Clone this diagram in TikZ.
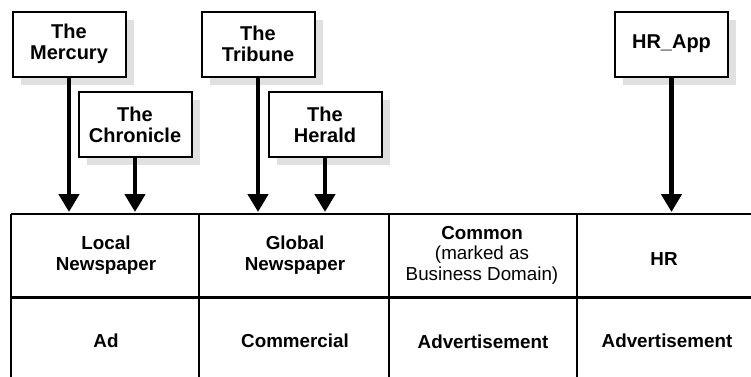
\documentclass[tikz,border=0pt]{standalone}
\usepackage{fontspec}
\setmainfont{Liberation Sans}
\usetikzlibrary{arrows.meta,shadows}
\begin{document}
\begin{tikzpicture}[x=1pt,y=-1pt,
  pub/.style={draw, line width=2pt, fill=white, minimum width=113pt, minimum height=65pt,
    align=center, inner sep=0pt, font=\bfseries\fontsize{20}{20.7}\selectfont,
    drop shadow={shadow xshift=8pt, shadow yshift=-8pt, fill=black!12, opacity=1, draw=none}},
  arr/.style={line width=4.5pt, -{Triangle[width=20pt,length=18pt]}},
  cell/.style={align=center, inner sep=0pt, font=\bfseries\fontsize{18.8}{20.5}\selectfont},
  grid/.style={line width=2.5pt}]
\useasboundingbox (0,0) rectangle (751,376);
\clip (0,0) rectangle (751,376);
% publication boxes
\node[pub] (merc) at (69,44) {The\\Mercury};
\node[pub] (chron) at (135,124.5) {The\\Chronicle};
\node[pub] (trib) at (258,44) {The\\Tribune};
\node[pub] (her) at (325,124.5) {The\\Herald};
\node[pub] (hrapp) at (671.5,44) {HR\_App};
% table
\coordinate (tt) at (0,212);
\draw[grid] (11,214) -- (753,214);
\draw[grid,line width=3pt] (11,297) -- (753,297);
\draw[grid] (11,214) -- (11,390);
\draw[grid] (199,214) -- (199,390);
\draw[grid] (389,214) -- (389,390);
\draw[grid] (577,214) -- (577,390);
\draw[grid] (753,214) -- (753,390);
% arrows
\draw[arr] (merc.south) -- (merc.south |- tt);
\draw[arr] (chron.south) -- (chron.south |- tt);
\draw[arr] (trib.south) -- (trib.south |- tt);
\draw[arr] (her.south) -- (her.south |- tt);
\draw[arr] (hrapp.south) -- (hrapp.south |- tt);
% cell texts
\node[cell] (local) at (106,255) {Local\\Newspaper};
\node[cell] (global) at (295,255) {Global\\Newspaper};
\node[cell] (common) at (482,255) {Common\\{\mdseries (marked as}\\{\mdseries Business Domain)}};
\node[cell] (hr) at (664,259) {HR};
\node[cell] (ad) at (106,341) {Ad};
\node[cell] (comm) at (295,341) {Commercial};
\node[cell] (adv1) at (483,342) {Advertisement};
\node[cell] (adv2) at (667,341) {Advertisement};
\end{tikzpicture}
\end{document}
